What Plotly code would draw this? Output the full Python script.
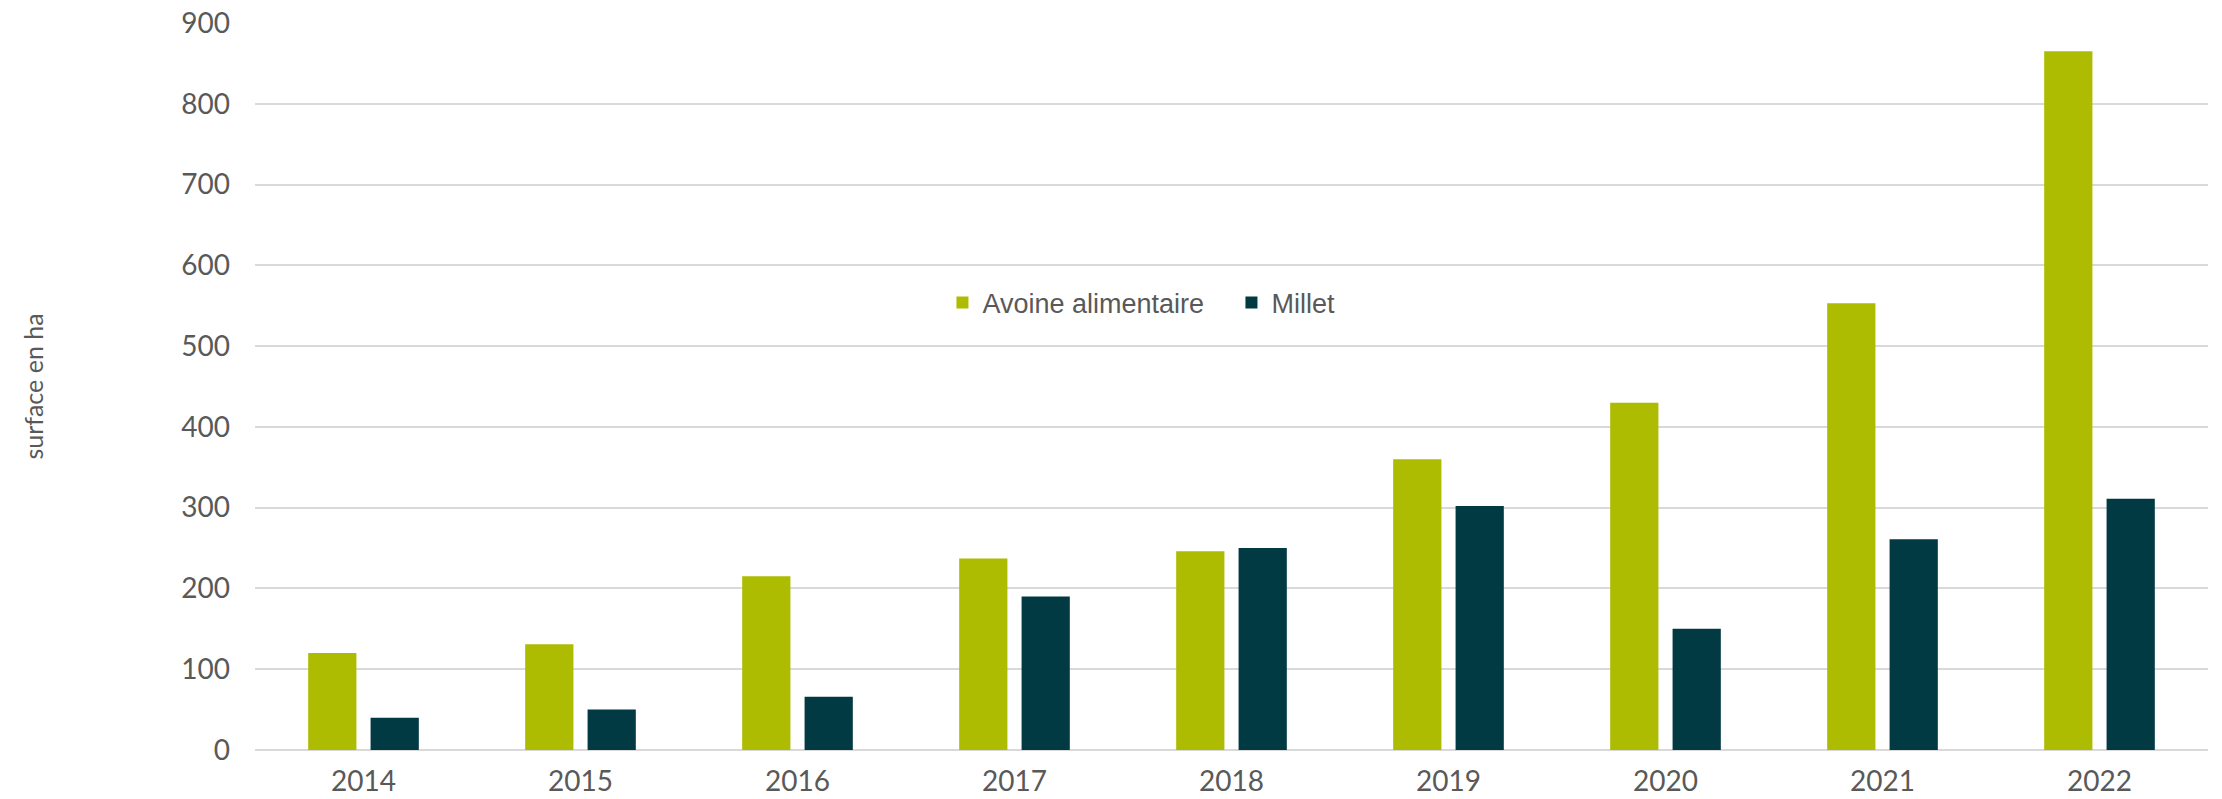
import plotly.graph_objects as go

years = ["2014", "2015", "2016", "2017", "2018", "2019", "2020", "2021", "2022"]
avoine = [120, 131, 215, 237, 246, 360, 430, 553, 865]
millet = [40, 50, 66, 190, 250, 302, 150, 261, 311]
series_names = ["Avoine alimentaire", "Millet"]
y_ticks = [0, 100, 200, 300, 400, 500, 600, 700, 800, 900]

fig = go.Figure()
fig.add_trace(go.Bar(x=years, y=avoine, name=series_names[0], marker_color="#adbc00", marker_line_width=0))
fig.add_trace(go.Bar(x=years, y=millet, name=series_names[1], marker_color="#013a43", marker_line_width=0))

fig.update_layout(
    width=2222, height=799,
    margin=dict(l=255, r=14, t=23, b=49),
    paper_bgcolor="white", plot_bgcolor="white",
    barmode="group", bargap=0.425, bargroupgap=0.227,
    font=dict(family="Lato", color="#595959", size=27),
    legend=dict(orientation="h", x=0.352, y=0.615, xanchor="left", yanchor="middle",
                font=dict(family="Liberation Sans", size=27, color="#595959"),
                bgcolor="rgba(0,0,0,0)", itemwidth=30, tracegroupgap=0,
                entrywidth=244),
    showlegend=True,
)
fig.update_yaxes(range=[0, 900], tickvals=y_ticks, showgrid=True, gridcolor="#d9d9d9", gridwidth=2,
                 zeroline=True, zerolinecolor="#d9d9d9", zerolinewidth=2, automargin=False,
                 ticklabelstandoff=24, tickfont=dict(size=28, color="#595959"),
                 title=dict(text="surface en ha", font=dict(size=25, color="#595959"), standoff=130))
fig.update_xaxes(showgrid=False, showline=False, automargin=False,
                 tickfont=dict(size=28, color="#595959"), ticklabelstandoff=12)

fig.write_html("out.html", config={"displayModeBar": False},
               post_script="document.body.style.margin='0';")
